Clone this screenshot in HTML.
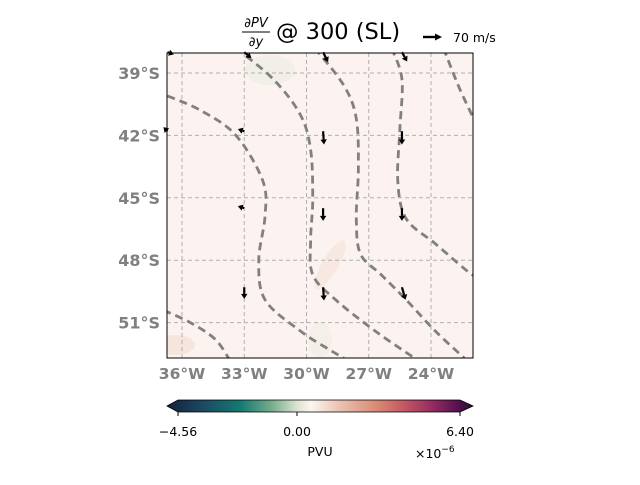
<!DOCTYPE html>
<html><head><meta charset="utf-8"><style>
body{margin:0;background:#fff;font-family:"Liberation Sans","DejaVu Sans",sans-serif}
svg text{font-family:"DejaVu Sans","Liberation Sans",sans-serif}
</style></head><body>
<svg id="c" width="640" height="480" viewBox="0 0 640 480" xmlns="http://www.w3.org/2000/svg">
<defs>
<linearGradient id="cm" x1="0" x2="1" y1="0" y2="0">
<stop offset="0" stop-color="#15203f"/><stop offset="0.12" stop-color="#1b4a63"/>
<stop offset="0.24" stop-color="#137a72"/><stop offset="0.34" stop-color="#74ab8a"/>
<stop offset="0.42" stop-color="#d6e0cc"/><stop offset="0.47" stop-color="#fbf6f2"/>
<stop offset="0.56" stop-color="#ecc4b3"/><stop offset="0.68" stop-color="#da8d77"/>
<stop offset="0.76" stop-color="#c85f64"/><stop offset="0.86" stop-color="#9a2e62"/>
<stop offset="0.95" stop-color="#561150"/><stop offset="1" stop-color="#2c0f2c"/>
</linearGradient>
<clipPath id="clip"><rect x="167" y="53" width="306" height="305"/></clipPath>
</defs>
<g id="plot" clip-path="url(#clip)">
<rect x="167" y="53" width="306" height="305" fill="#fcf2ef"/>
<ellipse cx="270" cy="70" rx="25" ry="15" fill="#ebede3" opacity="0.6"/>
<ellipse cx="320" cy="340" rx="12" ry="18" fill="#ebede3" opacity="0.5"/>
<ellipse cx="330" cy="265" rx="8" ry="28" fill="#f5e6de" opacity="0.8" transform="rotate(30 330 265)"/>
<ellipse cx="175" cy="345" rx="20" ry="10" fill="#f3e0d6" opacity="0.7"/>
</g>
<g id="grid"></g>
<g id="contours" clip-path="url(#clip)"></g>
<g id="arrows"></g>
<rect x="167" y="53" width="306" height="305" fill="none" stroke="#000" stroke-width="1"/>
<g id="axes"></g>
<g>
<text x="256" y="27" font-size="13" font-style="italic" text-anchor="middle">∂PV</text>
<text x="256" y="46" font-size="13" font-style="italic" text-anchor="middle">∂y</text>
<line x1="242" y1="32" x2="270" y2="32" stroke="#000" stroke-width="0.9"/>
<text x="276" y="39" font-size="22.5">@ 300 (SL)</text>
</g>
<g>
<line x1="423" y1="37" x2="436" y2="37" stroke="#000" stroke-width="2.4"/>
<polygon points="435,33.5 442,37 435,40.5" fill="#000"/>
<text x="453" y="42" font-size="12.5">70 m/s</text>
</g>
<g>
<polygon points="178,400 460,400 473,406 460,412 178,412 167,406" fill="url(#cm)" stroke="#000" stroke-width="0.8"/>
</g>
<g id="cbticks"></g>
<text x="320" y="456" font-size="12.5" text-anchor="middle">PVU</text>
<text x="415" y="458" font-size="12.5">×10<tspan dy="-6" font-size="9">−6</tspan></text>
</svg>
<script>
const NS="http://www.w3.org/2000/svg";
const lonTicks=[-36,-33,-30,-27,-24];
const lonLabels=["36°W","33°W","30°W","27°W","24°W"];
const latTicks=[-39,-42,-45,-48,-51];
const latLabels=["39°S","42°S","45°S","48°S","51°S"];
const cbTicks=[-4.56,0,6.40];
const cbLabels=["−4.56","0.00","6.40"];
// contour lines (lon, lat)
const c1Lon=[-36.7,-35.1,-33.4,-32.1,-32.0,-32.3,-32.0,-30.3,-28.9,-28.2];
const c1Lat=[-40.1,-40.8,-42.0,-44.2,-45.9,-48.0,-49.9,-51.4,-52.3,-52.7];
const c2Lon=[-33.4,-31.6,-30.3,-29.8,-29.7,-29.8,-29.7,-28.6,-26.7,-24.8];
const c2Lat=[-37.8,-39.3,-41.0,-42.7,-45.1,-47.0,-48.7,-49.9,-51.4,-52.7];
const c3Lon=[-29.6,-28.2,-27.6,-27.5,-27.6,-27.4,-26.4,-25.2,-23.8,-22.4];
const c3Lat=[-37.8,-39.6,-41.2,-43.6,-46.0,-47.7,-48.7,-49.9,-51.4,-52.7];
const c4Lon=[-25.9,-25.4,-25.5,-25.6,-25.2,-23.8,-22.4,-21.6];
const c4Lat=[-37.8,-39.3,-41.7,-44.2,-46.0,-47.2,-48.4,-49.0];
const c5Lon=[-23.4,-22.6,-21.6];
const c5Lat=[-37.8,-39.8,-41.9];
const c6Lon=[-36.9,-35.6,-34.4,-33.7];
const c6Lat=[-50.4,-51.0,-51.8,-52.8];
const contourLons=[c1Lon,c2Lon,c3Lon,c4Lon,c5Lon,c6Lon];
const contourLats=[c1Lat,c2Lat,c3Lat,c4Lat,c5Lat,c6Lat];
// wind vectors (tail positions and components)
const arrLon=[-36.7,-33,-29.2,-25.4,-36.7,-33,-29.2,-25.4,-33,-29.2,-25.4,-33,-29.2,-25.4];
const arrLat=[-38,-38,-38,-38,-41.8,-41.8,-41.8,-41.8,-45.5,-45.5,-45.5,-49.3,-49.3,-49.3];
const arrU=[3,6,5,5,-1,-3,1,0,-3,0,0,0,1,4];
const arrV=[-1,-5,-10,-9,1,1,-15,-15,1,-14,-14,-12,-15,-14];
const x=lon=>182+(lon+36)*20.75;
const y=lat=>73+(-39-lat)*20.8;
const cx=v=>v<0?297+(v/4.56)*119:297+(v/6.40)*163;
function el(t,a,p){const e=document.createElementNS(NS,t);for(const k in a)e.setAttribute(k,a[k]);p.appendChild(e);return e;}
function smooth(P){let d=`M${P[0][0]},${P[0][1]}`;for(let i=0;i<P.length-1;i++){const p0=P[i-1]||P[i],p1=P[i],p2=P[i+1],p3=P[i+2]||p2;
 d+=` C${p1[0]+(p2[0]-p0[0])/6},${p1[1]+(p2[1]-p0[1])/6} ${p2[0]-(p3[0]-p1[0])/6},${p2[1]-(p3[1]-p1[1])/6} ${p2[0]},${p2[1]}`;}return d;}
const grid=document.getElementById('grid'),axes=document.getElementById('axes');
lonTicks.forEach((v,i)=>{
 const l=el('line',{x1:x(v),x2:x(v),y1:53,y2:358,stroke:'#b0b0b0','stroke-dasharray':'4,3','stroke-width':1},grid);
 
 const t=el('text',{x:x(v),y:379,'font-size':15.5,'font-weight':'bold',fill:'#808080','text-anchor':'middle'},axes);
 t.textContent=lonLabels[i];
});
latTicks.forEach((v,i)=>{
 const l=el('line',{x1:167,x2:473,y1:y(v),y2:y(v),stroke:'#b0b0b0','stroke-dasharray':'4,3','stroke-width':1},grid);
 
 const t=el('text',{x:160,y:y(v)+6,'font-size':16,'font-weight':'bold',fill:'#808080','text-anchor':'end'},axes);
 t.textContent=latLabels[i];
});
const cg=document.getElementById('contours');
contourLons.forEach((lons,j)=>{
 const lats=contourLats[j];
 const P=lons.map((v,i)=>[x(v),y(lats[i])]);
 const p=el('path',{d:smooth(P),fill:'none',stroke:'#808080','stroke-width':2.8,'stroke-dasharray':'8,5'},cg);
 
});
const ag=document.getElementById('arrows');
arrLon.forEach((v,i)=>{
 const x0=x(v),y0=y(arrLat[i]),u=arrU[i],w=-arrV[i];
 const len=Math.hypot(u,w)||1,ux=u/len,uy=w/len;
 const sc=0.55;
 const x1=x0+u*sc,y1=y0+w*sc;
 const g=el('g',{},ag);
 
 el('line',{x1:x0,y1:y0,x2:x1,y2:y1,stroke:'#000','stroke-width':2.2},g);
 const px=-uy,py=ux;
 el('polygon',{points:`${x1+ux*5},${y1+uy*5} ${x1+px*3.2},${y1+py*3.2} ${x1-px*3.2},${y1-py*3.2}`,fill:'#000'},g);
});
const cb=document.getElementById('cbticks');
cbTicks.forEach((v,i)=>{
 const l=el('line',{x1:cx(v),x2:cx(v),y1:412,y2:416,stroke:'#000'},cb);
 
 const t=el('text',{x:cx(v),y:436,'font-size':12.5,'text-anchor':'middle'},cb);
 t.textContent=cbLabels[i];
});
</script>
</body></html>
